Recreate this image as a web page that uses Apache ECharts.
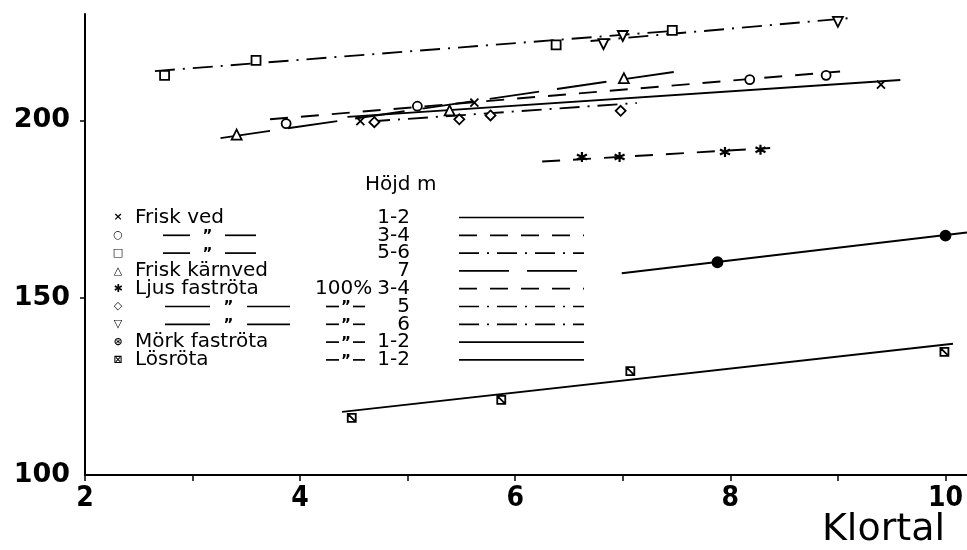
<!DOCTYPE html>
<html>
<head>
<meta charset="utf-8">
<script src="https://cdn.jsdelivr.net/npm/echarts@6/dist/echarts.min.js"></script>
<style>
  html, body { margin: 0; padding: 0; background: #fff; }
  #chart { width: 967px; height: 550px; }
</style>
</head>
<body>
<div id="chart"></div>
<script>
// Klortal (x) against height-class density values (y), grouped by wood condition.
const xTicks = [2, 3, 4, 5, 6, 7, 8, 9, 10];
const xLabels = [2, 4, 6, 8, 10];
const yTicks = [150, 200];
const yLabels = [100, 150, 200];

// Frisk ved, 1-2 m
const friskVed12Pts = [[4.56, 199.8], [5.62, 205.0], [9.40, 210.1]];
const friskVed12Fit = [[4.44, 201.0], [9.58, 211.4]];
// Frisk ved, 3-4 m
const friskVed34Pts = [[3.87, 199.1], [5.09, 204.0], [8.18, 211.5], [8.89, 212.7]];
const friskVed34Fit = [[3.72, 200.3], [9.02, 213.8]];
// Frisk ved, 5-6 m
const friskVed56Pts = [[2.74, 212.7], [3.59, 216.9], [6.38, 221.3], [7.46, 225.4]];
const friskVed56Fit = [[2.65, 213.9], [7.58, 225.5]];
// Frisk kärnved, 7 m
const karnved7Pts = [[3.41, 196.0], [5.39, 202.8], [7.01, 211.9]];
const karnved7Fit = [[3.26, 195.0], [7.55, 214.0]];
// Ljus faströta 100 %, 3-4 m
const ljus34Pts = [[6.62, 189.7], [6.97, 189.7], [7.95, 191.1], [8.28, 191.7]];
const ljus34Fit = [[6.25, 188.4], [8.37, 192.2]];
// Ljus faströta 100 %, 5 m
const ljus5Pts = [[4.69, 199.5], [5.48, 200.3], [5.77, 201.4], [6.98, 202.7]];
const ljus5Fit = [[4.65, 199.7], [7.13, 204.9]];
// Ljus faströta 100 %, 6 m
const ljus6Pts = [[6.82, 221.5], [7.00, 223.8], [9.00, 227.8]];
const ljus6Fit = [[6.70, 222.4], [9.13, 228.9]];
// Mörk faströta 100 %, 1-2 m
const mork12Pts = [[7.88, 160.0], [10.0, 167.5]];
const mork12Fit = [[6.99, 156.9], [10.2, 168.4]];
// Lösröta 100 %, 1-2 m
const los12Pts = [[4.48, 116.1], [5.87, 121.2], [7.07, 129.3], [9.99, 134.7]];
const los12Fit = [[4.39, 117.8], [10.07, 137.0]];

// Legend table text
const legendNames = ['Frisk ved', '', '', 'Frisk kärnved', 'Ljus faströta', '', '', 'Mörk faströta', 'Lösröta'];
const legendShare = ['', '', '', '', '100%', '"', '"', '"', '"'];
const legendHeights = ['1-2', '3-4', '5-6', '7', '3-4', '5', '6', '1-2', '1-2'];
const legendTitle = 'Höjd m';
const axisName = 'Klortal';

// Line dash patterns and markers
const SOLID = 'solid';
const DASH = [18, 13];
const DASHDOT = [20, 8, 2, 8];
const LONGDASH = [50, 18];

const CROSS = 'path://M0,0L10,10M0,10L10,0';
const STAR = 'path://M5,0L5,10M0.7,2.5L9.3,7.5M0.7,7.5L9.3,2.5';
const BOXDIAG = 'path://M0,0H10V10H0ZM0,0L10,10';

const groups = [
  { pts: friskVed12Pts, fit: friskVed12Fit, dash: SOLID, symbol: CROSS, size: 8, fill: 'none' },
  { pts: friskVed34Pts, fit: friskVed34Fit, dash: DASH, symbol: 'circle', size: 9, fill: '#fff' },
  { pts: friskVed56Pts, fit: friskVed56Fit, dash: DASHDOT, symbol: 'rect', size: 9, fill: '#fff' },
  { pts: karnved7Pts, fit: karnved7Fit, dash: LONGDASH, symbol: 'triangle', size: 10, fill: '#fff' },
  { pts: ljus34Pts, fit: ljus34Fit, dash: DASH, symbol: STAR, size: 10, fill: 'none', bw: 2.2 },
  { pts: ljus5Pts, fit: ljus5Fit, dash: DASHDOT, symbol: 'diamond', size: 10, fill: '#fff' },
  { pts: ljus6Pts, fit: ljus6Fit, dash: DASHDOT, symbol: 'triangle', rotate: 180, size: 10, fill: '#fff' },
  { pts: mork12Pts, fit: mork12Fit, dash: SOLID, symbol: 'circle', size: 10, fill: '#000' },
  { pts: los12Pts, fit: los12Fit, dash: SOLID, symbol: BOXDIAG, size: 8, fill: '#fff' }
];

const series = [];
groups.forEach(function (g) {
  series.push({
    type: 'line',
    data: g.fit,
    symbol: 'none',
    silent: true,
    animation: false,
    lineStyle: { color: '#000', width: 1.9, type: g.dash },
    z: 2
  });
  series.push({
    type: 'scatter',
    data: g.pts,
    symbol: g.symbol,
    symbolSize: g.size,
    symbolRotate: g.rotate || 0,
    animation: false,
    itemStyle: { color: g.fill, borderColor: '#000', borderWidth: g.bw || 1.8, opacity: 1 },
    z: 3
  });
});

// Legend table drawn as graphic elements
const legendMarks = ['\u00D7', '\u25CB', '\u25A1', '\u25B3', '\u2731', '\u25C7', '\u25BD', '\u229B', '\u22A0'];
const rowY0 = 217.5, rowStep = 17.8;
const textFont = '20px "DejaVu Sans", sans-serif';
const graphics = [];
graphics.push({
  type: 'text', left: 365, top: 175,
  style: { text: legendTitle, font: textFont, fill: '#000' }
});
// Axis title under the right end of the x axis
graphics.push({
  type: 'text', x: 945, y: 549,
  style: { text: axisName, font: '38px "DejaVu Sans", sans-serif', fill: '#000', align: 'right', verticalAlign: 'bottom' }
});

function dittoMark(x1, x2, x3, x4, y) {
  // "—— " ——" repeat mark: two short rules with a quote between
  graphics.push({ type: 'line', shape: { x1: x1, y1: y, x2: x2, y2: y }, style: { stroke: '#000', lineWidth: 1.7 } });
  graphics.push({ type: 'line', shape: { x1: x3, y1: y, x2: x4, y2: y }, style: { stroke: '#000', lineWidth: 1.7 } });
  graphics.push({
    type: 'text', x: (x2 + x3) / 2, y: y + 2,
    style: { text: '\u201D', font: 'bold 15px "DejaVu Sans", sans-serif', fill: '#000', align: 'center', verticalAlign: 'middle' }
  });
}

for (let i = 0; i < legendHeights.length; i++) {
  const y = rowY0 + i * rowStep;
  graphics.push({
    type: 'text', x: 118, y: y,
    style: { text: legendMarks[i], font: 'bold 11px "DejaVu Sans", sans-serif', fill: '#000', align: 'center', verticalAlign: 'middle' }
  });
  if (legendNames[i]) {
    graphics.push({
      type: 'text', x: 135, y: y,
      style: { text: legendNames[i], font: textFont, fill: '#000', verticalAlign: 'middle' }
    });
  } else if (i === 1 || i === 2) {
    dittoMark(163, 190, 225, 256, y);
  } else {
    dittoMark(165, 210, 247, 290, y);
  }
  if (legendShare[i] === '100%') {
    graphics.push({
      type: 'text', x: 315, y: y,
      style: { text: legendShare[i], font: textFont, fill: '#000', verticalAlign: 'middle' }
    });
  } else if (legendShare[i]) {
    dittoMark(326, 339, 353, 365, y);
  }
  graphics.push({
    type: 'text', x: 410, y: y,
    style: { text: legendHeights[i], font: textFont, fill: '#000', align: 'right', verticalAlign: 'middle' }
  });
  const d = groups[i].dash;
  graphics.push({
    type: 'line',
    shape: { x1: 459, y1: y, x2: 584, y2: y },
    style: { stroke: '#000', lineWidth: 1.7, lineDash: d === SOLID ? null : d }
  });
}

const chart = echarts.init(document.getElementById('chart'), null, { renderer: 'canvas' });
chart.setOption({
  backgroundColor: '#fff',
  animation: false,
  grid: { left: 85, right: 0, top: 14, bottom: 75, containLabel: false, outerBoundsMode: 'none' },
  xAxis: {
    type: 'value',
    min: 2, max: 10.2, interval: 1,
    axisLine: { show: true, onZero: false, lineStyle: { color: '#000', width: 2 } },
    axisTick: { show: true, inside: false, length: 6, customValues: xTicks, lineStyle: { color: '#000', width: 1.5 } },
    axisLabel: {
      customValues: xLabels,
      margin: 10,
      fontFamily: '"Liberation Sans Narrow", "DejaVu Sans Condensed", sans-serif',
      fontWeight: 'bold', fontSize: 28, color: '#000',
      formatter: function (v) { return xLabels.indexOf(v) >= 0 ? String(v) : ''; }
    },
    splitLine: { show: false }
  },
  yAxis: {
    type: 'value',
    min: 100, max: 230, interval: 50,
    axisLine: { show: true, onZero: false, lineStyle: { color: '#000', width: 2 } },
    axisTick: { show: true, length: 5, customValues: yTicks, lineStyle: { color: '#000', width: 1.5 } },
    axisLabel: {
      customValues: yLabels,
      margin: 15,
      fontFamily: '"DejaVu Sans", sans-serif',
      fontWeight: 'bold', fontSize: 27, color: '#000',
      formatter: function (v) { return yLabels.indexOf(v) >= 0 ? String(v) : ''; }
    },
    splitLine: { show: false }
  },
  graphic: graphics,
  series: series
});
</script>
</body>
</html>
